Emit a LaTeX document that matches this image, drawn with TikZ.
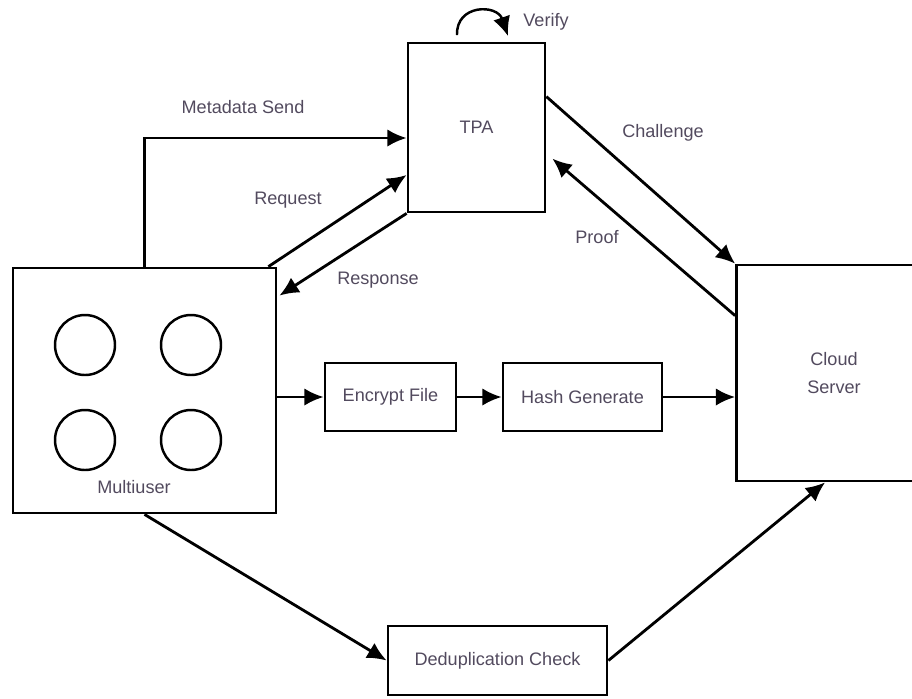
\documentclass[tikz,border=0pt]{standalone}
\usepackage{fontspec}
\setmainfont{Liberation Sans}
\usepackage{xcolor}
\usepackage{tikz}
\usetikzlibrary{positioning,arrows.meta,calc}

\definecolor{labelgray}{RGB}{82,74,94}

\begin{document}
\begin{tikzpicture}[
    x=0.02cm, y=-0.02cm,
    font=\fontsize{10.3}{12.5}\selectfont,
    block/.style={draw, line width=1.6pt, align=center, inner sep=0pt, text=labelgray},
    user/.style={draw, circle, line width=1.4pt, minimum size=1.2cm, inner sep=0pt},
    lbl/.style={text=labelgray, inner sep=1pt},
    arrow/.style={-{Latex[length=11pt,width=10pt]}, line width=1.6pt}
]
\clip (0,0) rectangle (912,698);

\node[block, minimum width=5.26cm, minimum height=4.9cm] (multi) at (144.5,390.5) {};
\node[block, minimum width=2.74cm, minimum height=3.38cm] (tpa) at (476.5,127.5) {TPA};
\node[block, minimum width=3.9cm, minimum height=4.32cm] (cloud) at (834,373) {Cloud\\[3pt]Server};
\node[block, minimum width=2.62cm, minimum height=1.36cm] (enc) at (390.5,397) {Encrypt File};
\node[block, minimum width=3.18cm, minimum height=1.36cm] (hash) at (582.5,397) {Hash Generate};
\node[block, minimum width=4.38cm, minimum height=1.38cm] (dedup) at (497.5,660.5) {Deduplication Check};

\node[user] (u1) at (85,345) {};
\node[user] (u2) at (191,345) {};
\node[user] (u3) at (85,440) {};
\node[user] (u4) at (191,440) {};
\node[lbl] (multilbl) at (134,487) {Multiuser};

\coordinate (vstart) at (457,35);
\coordinate (vend) at (508,36);

\draw[arrow] (multi.north) |- ([yshift=-0.21cm]tpa.west);
\draw[arrow] ([xshift=-0.18cm]multi.north east) -- ([yshift=-0.95cm]tpa.west);
\draw[arrow] (tpa.south west) -- ([xshift=0.04cm,yshift=-0.58cm]multi.north east);
\draw[arrow] ([yshift=-1.1cm]tpa.north east) -- (cloud.north west);
\draw[arrow] ([yshift=-1.04cm]cloud.north west) -- ([xshift=0.12cm,yshift=-2.34cm]tpa.north east);
\draw[arrow] (multi.east |- enc) -- (enc);
\draw[arrow] (enc) -- (hash);
\draw[arrow] (hash) -- (cloud.west |- hash);
\draw[arrow] (multi.south) -- (dedup.west);
\draw[arrow] (dedup.east) -- ([xshift=1.8cm]cloud.south west);
\draw[arrow, line width=1.4pt] (vstart) .. controls (456,4) and (497,4) .. (vend);

\node[lbl] (metadata) at (243,107) {Metadata Send};
\node[lbl] (verify) at (546,22) {Verify};
\node[lbl] (request) at (288,200) {Request};
\node[lbl] (response) at (378,280) {Response};
\node[lbl] (challenge) at (663,133) {Challenge};
\node[lbl] (proof) at (597,237) {Proof};

\end{tikzpicture}
\end{document}
